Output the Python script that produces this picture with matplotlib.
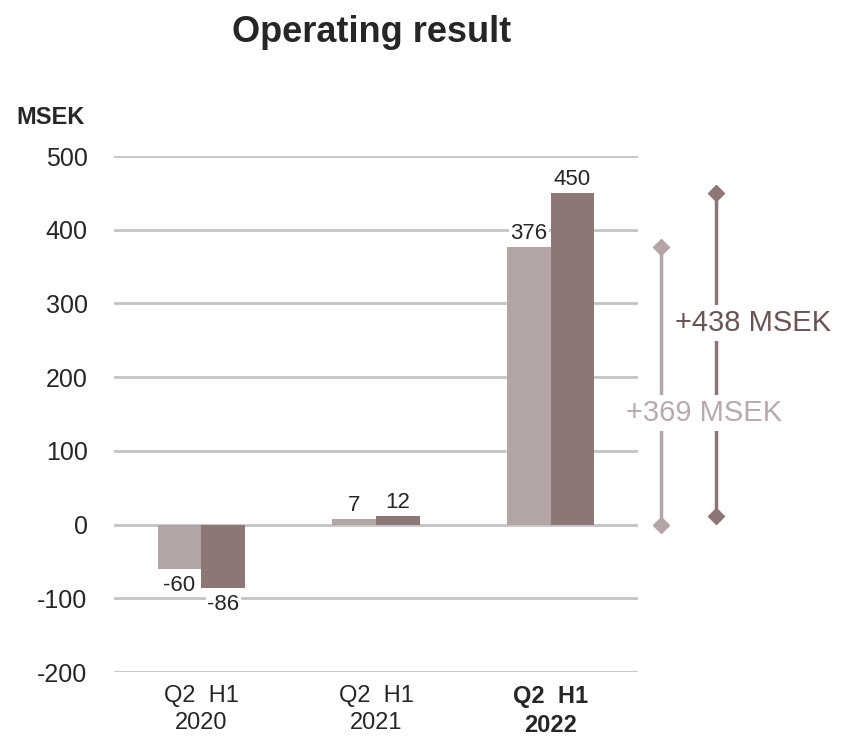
import numpy as np
import matplotlib.pyplot as plt

# Data
years = ["2020", "2021", "2022"]
q2 = [-60, 7, 376]
h1 = [-86, 12, 450]
yticks = [-200, -100, 0, 100, 200, 300, 400, 500]

light = "#b3a5a5"
dark = "#8c7676"
txt = "#262626"

plt.rcParams['font.family'] = ['Liberation Sans', 'DejaVu Sans']

fig = plt.figure(figsize=(8.41, 7.42), dpi=100)
ax = fig.add_axes([114 / 841, 70 / 742, 524 / 841, 516 / 742])

x = np.arange(len(years))
w = 0.25
ax.bar(x - w / 2, q2, w, color=light, zorder=2)
ax.bar(x + w / 2, h1, w, color=dark, zorder=2)

for yv in yticks:
    ax.axhline(yv, color="#c4c4c4", lw=2, zorder=1)

ax.set_xlim(-0.5, 2.5)
ax.set_ylim(-200, 500)
ax.set_yticks(yticks)
ax.set_yticklabels([str(v) for v in yticks], fontsize=18, color=txt)
ax.tick_params(axis="y", length=0, pad=19)
ax.set_xticks([])
for s in ax.spines.values():
    s.set_visible(False)

# category labels
for i, yr in enumerate(years):
    wt = "bold" if i == 2 else "normal"
    ax.text(i, -218, "Q2  H1\n" + yr, ha="center", va="top", fontsize=17,
            color=txt, fontweight=wt, linespacing=1.3)

# value labels
bb = dict(facecolor="white", edgecolor="none", pad=1)
for i in range(len(years)):
    for val, off in ((q2[i], -w / 2), (h1[i], w / 2)):
        if val < 0:
            ax.text(i + off, val - 8, str(val), ha="center", va="top",
                    fontsize=16, color=txt, bbox=bb, zorder=3)
        else:
            ax.text(i + off, val + 4, str(val), ha="center", va="bottom",
                    fontsize=16, color=txt, bbox=bb, zorder=3)

# difference markers
lx1, lx2 = 2.632, 2.946
ax.plot([lx1, lx1], [0, q2[2]], color=light, lw=2.5, marker="D", ms=8,
        clip_on=False, zorder=2)
ax.plot([lx2, lx2], [h1[1], h1[2]], color=dark, lw=2.5, marker="D", ms=8,
        clip_on=False, zorder=2)
wb = dict(facecolor="white", edgecolor="none", pad=3)
ax.text(2.878, 151, "+%d MSEK" % (q2[2] - q2[1]), ha="center", va="center",
        fontsize=21, color="#b8aaaa", bbox=wb, clip_on=False, zorder=4)
ax.text(3.158, 273, "+%d MSEK" % (h1[2] - h1[1]), ha="center", va="center",
        fontsize=21, color="#6a5555", bbox=wb, clip_on=False, zorder=4)

fig.text(372 / 841, 1 - 32 / 742, "Operating result", ha="center", va="center",
         fontsize=26, fontweight="bold", color=txt)
fig.text(16 / 841, 1 - 118 / 742, "MSEK", ha="left", va="center", fontsize=17,
         fontweight="bold", color=txt)

fig.savefig("out.png", dpi=100)
